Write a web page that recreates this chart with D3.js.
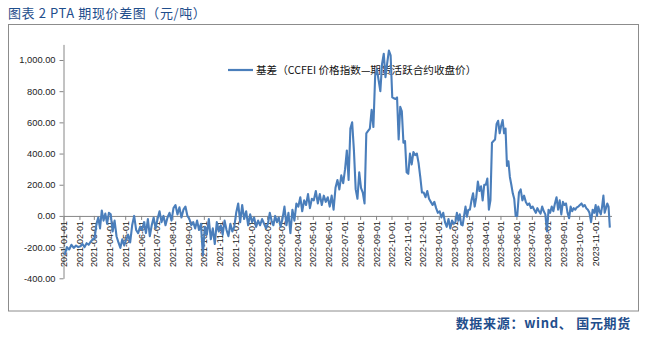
<!DOCTYPE html>
<html>
<head>
<meta charset="utf-8">
<script src="https://cdn.jsdelivr.net/npm/d3@7"></script>
<style>
  body { margin: 0; background: #fff; }
  svg { display: block; }
</style>
</head>
<body>
<svg id="chart" width="650" height="339"></svg>
<script>
// PTA basis (spot CCFEI index minus active futures close), yuan/ton
const titleText = "图表 2 PTA 期现价差图（元/吨）";
const legendText = "基差（CCFEI 价格指数—期货活跃合约收盘价）";
const sourceText = "数据来源：wind、 国元期货";

// one entry per calendar month; the values of each month are spread across it
const months = [
  "2021-01","2021-02","2021-03","2021-04","2021-05","2021-06",
  "2021-07","2021-08","2021-09","2021-10","2021-11","2021-12",
  "2022-01","2022-02","2022-03","2022-04","2022-05","2022-06",
  "2022-07","2022-08","2022-09","2022-10","2022-11","2022-12",
  "2023-01","2023-02","2023-03","2023-04","2023-05","2023-06",
  "2023-07","2023-08","2023-09","2023-10","2023-11"
];

const basis = [
  [-250, -200, -215, -185, -205, -190, -200],
  [-195, -180, -200, -175, -185, -165, -150],
  [-140, -50, -10, -80, 35, -30, 15, -50, 20],
  [10, -100, -30, -130, -170, -205, -150, -190],
  [-150, -120, -170, -60, 0, -90, -110, -70],
  [-90, -40, -110, -20, -130, -60, -10, -80],
  [-20, 30, -40, 0, -60, -10, 20, -30],
  [50, 70, 10, 55, -10, 40, 60, 0],
  [-20, -60, -40, -80, -30, -90, -50, -255],
  [-70, -120, -20, -150, -80, -180, -40, -100],
  [-60, -120, -30, -90, -130, -50, -100, -70],
  [20, 80, -40, 70, -20, 30, -60, 10],
  [-40, -10, -70, -30, -60, -20, -50, -80],
  [-50, 20, -30, -60, 0, -40, -10, -70],
  [-20, 60, -60, 20, -110, 40, -30, 80],
  [60, 120, 30, 100, 70, 140, 50, 110],
  [100, 160, 80, 140, 70, 130, 90, 120],
  [60, 130, 40, 180, 230, 170, 260, 210],
  [300, 420, 230, 560, 600, 420, 170, 110, 280],
  [180, 150, 80, 530, 545, 560, 680, 570, 900],
  [940, 870, 800, 975, 1040, 890, 980, 1060, 1030],
  [760, 755, 750, 760, 490, 700, 670, 470, 480, 280],
  [270, 400, 330, 410, 390, 400, 340, 250, 150],
  [150, 120, 160, 110, 90, 70, 90, 50, 20],
  [30, -10, 20, -40, -70, -20, -80, -30, -50],
  [-40, 20, -30, 10, -55, -60, 0, 60, -5, 40],
  [40, 100, 145, 60, 120, 220, 160, 190, 100, 200],
  [200, 240, 40, 100, 470, 480, 490, 590, 610, 530],
  [580, 615, 530, 560, 320, 350, 250, 200, 145, 110, 0],
  [0, 150, 170, 100, 130, 90, 70, 80, 50],
  [60, 40, 20, 50, 30, 15, 60, 30, 10, -100],
  [40, 20, 60, 30, 80, 120, 40, 100, 10, 90],
  [70, 80, 20, -15, 60, 30, 50, 40, 55, 60],
  [70, 80, 60, 70, 50, 40, 20, -40, 40, 20],
  [70, 0, 60, 30, 10, 60, 130, 20, 50, 80, 60, -75]
];

const yTicks = [-400, -200, 0, 200, 400, 600, 800, 1000];

const parseMonth = d3.timeParse("%Y-%m");
const monthStarts = months.map(parseMonth);

// place each month's values evenly inside that month
const points = [];
basis.forEach((vals, i) => {
  const start = monthStarts[i];
  const end = d3.timeMonth.offset(start, 1);
  const span = end - start;
  vals.forEach((v, k) => {
    points.push({ date: new Date(+start + (k + 0.5) / vals.length * span), value: v });
  });
});

const svg = d3.select("#chart");
const lineColor = "#4a7ebb";
const axisColor = "#868686";

const x = d3.scaleTime()
  .domain([parseMonth("2021-01"), new Date(2023, 11, 3)])
  .range([63.5, 611.5]);
const y = d3.scaleLinear()
  .domain([-400, 1100])
  .range([278.3, 44.4]);

// frame around the chart
svg.append("rect")
  .attr("x", 8.5).attr("y", 24.5)
  .attr("width", 630).attr("height", 286.5)
  .attr("fill", "none").attr("stroke", "#8c8c8c").attr("stroke-width", 1);

// title
svg.append("text")
  .attr("x", 8).attr("y", 18)
  .attr("font-family", "'Noto Sans CJK SC', sans-serif")
  .attr("font-size", 13)
  .attr("letter-spacing", 0.6)
  .attr("fill", "#1f4e8c")
  .text(titleText);

// source note
svg.append("text")
  .attr("x", 631).attr("y", 328)
  .attr("text-anchor", "end")
  .attr("font-family", "'Noto Sans CJK SC', sans-serif")
  .attr("font-size", 13)
  .attr("font-weight", "bold")
  .attr("letter-spacing", 0.7)
  .attr("fill", "#1f4e8c")
  .text(sourceText);

// y axis
const fmt = d3.format(",.2f");
const yAxis = svg.append("g")
  .attr("transform", "translate(63.5,0)")
  .call(d3.axisLeft(y).tickValues(yTicks).tickSize(4).tickSizeOuter(0)
    .tickFormat(d => fmt(d).replace("\u2212", "-")));
yAxis.select(".domain").attr("stroke", axisColor);
yAxis.selectAll(".tick line").attr("stroke", axisColor);
yAxis.selectAll(".tick text")
  .attr("x", -8)
  .attr("font-family", "'Liberation Sans', Arial, sans-serif")
  .attr("font-size", 9.3)
  .attr("fill", "#222");

// x axis along the zero line
const xAxis = svg.append("g")
  .attr("transform", `translate(0,${y(0)})`)
  .call(d3.axisBottom(x).tickValues(monthStarts).tickSize(4).tickSizeOuter(0)
    .tickFormat(d3.timeFormat("%Y-%m-%d")));
xAxis.select(".domain").attr("stroke", axisColor);
xAxis.selectAll(".tick line").attr("stroke", axisColor);
xAxis.selectAll(".tick text")
  .attr("transform", "rotate(-90)")
  .attr("text-anchor", "end")
  .attr("x", -5).attr("y", 0).attr("dy", "0.35em")
  .attr("font-family", "'Liberation Sans', Arial, sans-serif")
  .attr("font-size", 9)
  .attr("fill", "#222");

// legend
const legend = svg.append("g");
legend.append("line")
  .attr("x1", 228).attr("x2", 253).attr("y1", 70).attr("y2", 70)
  .attr("stroke", lineColor).attr("stroke-width", 2.2);
legend.append("text")
  .attr("x", 256).attr("y", 74)
  .attr("font-family", "'Noto Sans CJK SC', sans-serif")
  .attr("font-size", 10.6)
  .attr("fill", "#111")
  .text(legendText);

// basis series
const line = d3.line().x(d => x(d.date)).y(d => y(d.value));
svg.append("path")
  .datum(points)
  .attr("d", line)
  .attr("fill", "none")
  .attr("stroke", lineColor)
  .attr("stroke-width", 2.1)
  .attr("stroke-linejoin", "round");
</script>
</body>
</html>
